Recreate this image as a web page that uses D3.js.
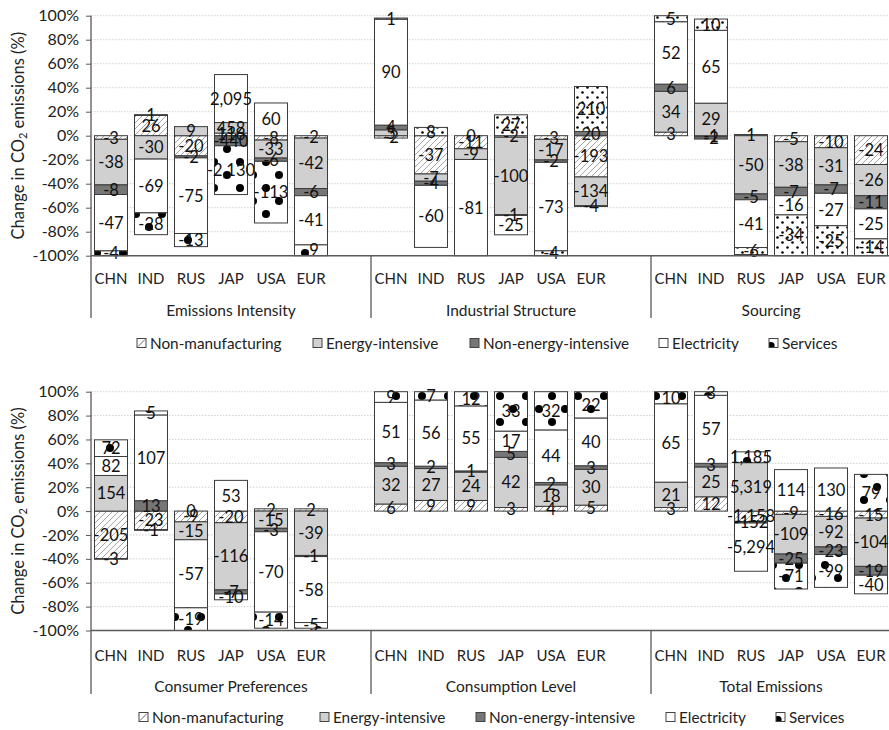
<!DOCTYPE html>
<html>
<head>
<meta charset="utf-8">
<script src="https://cdn.jsdelivr.net/npm/d3@7"></script>
<style>
  body { margin: 0; background: #fff; }
  svg { display: block; font-family: Lato, "Open Sans", sans-serif; }
</style>
</head>
<body>
<svg id="chart" width="889" height="730"></svg>
<script>
// ---- data -------------------------------------------------------------
const countries = ["CHN", "IND", "RUS", "JAP", "USA", "EUR"];
const seriesNames = ["Non-manufacturing", "Energy-intensive", "Non-energy-intensive", "Electricity", "Services"];
const topGroups = ["Emissions Intensity", "Industrial Structure", "Sourcing"];
const bottomGroups = ["Consumer Preferences", "Consumption Level", "Total Emissions"];
const yTicks = [-100, -80, -60, -40, -20, 0, 20, 40, 60, 80, 100];

// Contribution of each sector (% of net change), one row per decomposition
// factor: Emissions Intensity, Industrial Structure, Sourcing,
// Consumer Preferences, Consumption Level, Total Emissions; columns follow `countries`.
const nonManufacturing = [
  [-3, 26, -20, 116, -8, -2],
  [-2, -37, -11, -2, -3, -193],
  [3, -1, 1, -5, -10, -24],
  [-205, -23, -9, -20, 2, 2],
  [6, 9, 9, 3, 4, 5],
  [3, 12, -1158, -9, -16, -15]
];
const energyIntensive = [
  [-38, -30, 9, 458, -33, -42],
  [5, -7, -9, -100, -17, -134],
  [34, 29, -50, -38, -31, -26],
  [154, -1, -15, -116, -15, -39],
  [32, 27, 24, 42, 18, 30],
  [21, 25, 5319, -109, -92, -104]
];
const nonEnergyIntensive = [
  [-8, 1, -2, -440, -6, -6],
  [4, -4, null, -1, -2, 20],
  [6, -2, -5, -7, -7, -11],
  [-3, 13, 0, -7, -3, -1],
  [3, 2, 1, 5, 2, 3],
  [null, 3, -152, -25, -23, -19]
];
const electricity = [
  [-47, -69, -75, 2095, 60, -41],
  [90, -60, -81, -25, -73, -4],
  [52, 65, -41, -16, -27, -25],
  [82, 107, -57, 53, -70, -58],
  [51, 56, 55, 17, 44, 40],
  [65, 57, -5294, 114, 130, -40]
];
const services = [
  [-4, -28, -13, -2130, -113, -9],
  [1, 8, 0, 27, -4, 210],
  [5, 10, -6, -34, -25, -14],
  [72, 5, -19, -10, -14, -5],
  [9, 7, 12, 33, 32, 22],
  [10, 3, 1185, -71, -99, 79]
];
const seriesValues = [nonManufacturing, energyIntensive, nonEnergyIntensive, electricity, services];

// ---- styling ----------------------------------------------------------
const plotLeft = 91, plotRight = 891;
const lightGray = "#d0d0d0", darkGray = "#767676", edge = "#3c3c3c", axisColor = "#595959";

const fmt = d3.formatLocale({ decimal: ".", thousands: ",", grouping: [3], currency: ["", ""], minus: "-" }).format(",");

const svg = d3.select("#chart");
const defs = svg.append("defs");

// diagonal hatch
const hatch = defs.append("pattern").attr("id", "hatch")
  .attr("patternUnits", "userSpaceOnUse").attr("width", 6).attr("height", 6);
hatch.append("rect").attr("width", 6).attr("height", 6).attr("fill", "#fff");
hatch.append("path").attr("d", "M-1,1 L1,-1 M0,6 L6,0 M5,7 L7,5")
  .attr("stroke", "#8a8a8a").attr("stroke-width", 0.8);

// coarse dots
const dotsBig = defs.append("pattern").attr("id", "dotsBig")
  .attr("patternUnits", "userSpaceOnUse").attr("width", 26).attr("height", 26);
dotsBig.append("rect").attr("width", 26).attr("height", 26).attr("fill", "#fff");
dotsBig.append("circle").attr("cx", 6).attr("cy", 6).attr("r", 4).attr("fill", "#000");
dotsBig.append("circle").attr("cx", 19).attr("cy", 19).attr("r", 4).attr("fill", "#000");

// fine dots
const dotsSmall = defs.append("pattern").attr("id", "dotsSmall")
  .attr("patternUnits", "userSpaceOnUse").attr("width", 10).attr("height", 10);
dotsSmall.append("rect").attr("width", 10).attr("height", 10).attr("fill", "#fff");
dotsSmall.append("circle").attr("cx", 2.5).attr("cy", 2.5).attr("r", 1.3).attr("fill", "#000");
dotsSmall.append("circle").attr("cx", 7.5).attr("cy", 7.5).attr("r", 1.3).attr("fill", "#000");

function fillFor(seriesIdx, dotStyle) {
  return [ "url(#hatch)", lightGray, darkGray, "#fff", dotStyle ][seriesIdx];
}

// x band: three groups of six countries with a blank slot between groups
const slotKeys = [];
[0, 1, 2].forEach(g => {
  countries.forEach(c => slotKeys.push(g + "|" + c));
  if (g < 2) slotKeys.push(g + "|gap");
});
const x = d3.scaleBand().domain(slotKeys).range([plotLeft, plotRight])
  .paddingInner(0.175).paddingOuter(0.0875);
const step = x.step();

function drawPanel(cfg) {
  const g = svg.append("g");
  const y = d3.scaleLinear().domain([-100, 100]).range([cfg.yBottom, cfg.yTop]);

  // gridlines
  g.append("g").selectAll("line").data(yTicks.filter(t => t > -100)).join("line")
    .attr("x1", plotLeft).attr("x2", plotRight)
    .attr("y1", d => y(d)).attr("y2", d => y(d))
    .attr("stroke", "#cfcfcf").attr("stroke-width", 1).attr("stroke-dasharray", "1.5,1.5");

  // y axis
  const yAxis = d3.axisLeft(y).tickValues(yTicks).tickSize(5).tickPadding(7)
    .tickFormat(d => (d < 0 ? "-" + Math.abs(d) : d) + "%");
  const ya = g.append("g").attr("transform", `translate(${plotLeft},0)`).call(yAxis);
  ya.select(".domain").remove();
  ya.selectAll(".tick line").attr("stroke", axisColor);
  ya.selectAll(".tick text").attr("font-size", "16px").attr("fill", "#222").attr("font-family", "Lato, sans-serif");
  g.append("line").attr("x1", plotLeft).attr("x2", plotLeft)
    .attr("y1", cfg.yTop).attr("y2", cfg.dividerBottom)
    .attr("stroke", axisColor).attr("stroke-width", 1.3);

  // bars
  cfg.groups.forEach((groupName, gi) => {
    const row = cfg.rowOffset + gi;
    const dotStyle = cfg.dotStyles[gi];
    countries.forEach((c, ci) => {
      const vals = seriesValues.map(s => s[row][ci]);
      const total = d3.sum(vals, v => v == null ? 0 : Math.abs(v));
      let pos = 0, neg = 0;
      const segs = [];
      vals.forEach((v, si) => {
        if (v == null) return;
        const h = Math.abs(v) / total * 100;
        let y0, y1;
        if (v >= 0) { y0 = pos; y1 = pos + h; pos = y1; }
        else { y0 = neg; y1 = neg - h; neg = y1; }
        segs.push({ v, si, y0, y1 });
      });
      const bx = x(gi + "|" + c), bw = x.bandwidth();
      const bg = g.append("g");
      bg.selectAll("rect").data(segs).join("rect")
        .attr("x", bx).attr("width", bw)
        .attr("y", d => y(Math.max(d.y0, d.y1)))
        .attr("height", d => Math.abs(y(d.y0) - y(d.y1)))
        .attr("fill", d => fillFor(d.si, dotStyle))
        .attr("stroke", edge).attr("stroke-width", 1);
      bg.selectAll("text").data(segs).join("text")
        .attr("x", bx + bw / 2).attr("y", d => y((d.y0 + d.y1) / 2))
        .attr("text-anchor", "middle").attr("dominant-baseline", "central")
        .attr("font-size", "16.5px").attr("fill", "#111")
        .text(d => fmt(d.v));
    });
  });

  // category axis at -100%
  g.append("line").attr("x1", plotLeft).attr("x2", plotRight)
    .attr("y1", cfg.yBottom).attr("y2", cfg.yBottom)
    .attr("stroke", axisColor).attr("stroke-width", 1.5);

  // country labels
  cfg.groups.forEach((groupName, gi) => {
    g.append("g").selectAll("text").data(countries).join("text")
      .attr("x", c => x(gi + "|" + c) + x.bandwidth() / 2)
      .attr("y", cfg.catY).attr("text-anchor", "middle").attr("dominant-baseline", "central")
      .attr("font-size", "15px").attr("fill", "#222").text(c => c);
  });

  // group labels and dividers
  const groupStart = [x("0|CHN"), x("1|CHN"), x("2|CHN")].map(v => v - x.paddingOuter() * step);
  const groupEnd = [groupStart[1], groupStart[2], plotRight];
  cfg.groups.forEach((groupName, gi) => {
    g.append("text").attr("x", (groupStart[gi] + groupEnd[gi]) / 2).attr("y", cfg.groupY)
      .attr("text-anchor", "middle").attr("dominant-baseline", "central")
      .attr("font-size", "15.5px").attr("fill", "#222").text(groupName);
    if (gi > 0) {
      g.append("line").attr("x1", groupStart[gi]).attr("x2", groupStart[gi])
        .attr("y1", cfg.yBottom).attr("y2", cfg.dividerBottom)
        .attr("stroke", axisColor).attr("stroke-width", 1.3);
    }
  });

  // y axis title
  const cy = (cfg.yTop + cfg.yBottom) / 2;
  const title = g.append("text").attr("transform", `translate(18,${cy}) rotate(-90)`)
    .attr("text-anchor", "middle").attr("dominant-baseline", "central")
    .attr("font-size", "16.5px").attr("fill", "#222");
  title.append("tspan").text("Change in CO");
  title.append("tspan").attr("font-size", "11px").attr("dy", "4").text("2");
  title.append("tspan").attr("dy", "-4").text(" emissions (%)");

  // legend
  const lg = g.append("g");
  seriesNames.forEach((name, si) => {
    const sx = cfg.legendX[si], sy = cfg.legendY;
    const item = lg.append("g");
    const clipId = `lclip${cfg.rowOffset}_${si}`;
    defs.append("clipPath").attr("id", clipId)
      .append("rect").attr("x", sx).attr("y", sy - 4.5).attr("width", 9).attr("height", 9);
    item.append("rect").attr("x", sx).attr("y", sy - 4.5).attr("width", 9).attr("height", 9)
      .attr("fill", si === 1 ? lightGray : si === 2 ? darkGray : "#fff");
    if (si === 0) {
      item.append("line").attr("x1", sx + 1).attr("y1", sy + 3.5).attr("x2", sx + 8).attr("y2", sy - 3.5)
        .attr("stroke", "#555").attr("stroke-width", 0.9);
    }
    if (si === 4) {
      item.append("circle").attr("cx", sx + 2).attr("cy", sy + 2.5).attr("r", 3.6)
        .attr("fill", "#000").attr("clip-path", `url(#${clipId})`);
    }
    item.append("rect").attr("x", sx).attr("y", sy - 4.5).attr("width", 9).attr("height", 9)
      .attr("fill", "none").attr("stroke", "#444").attr("stroke-width", 1);
    item.append("text").attr("x", sx + 13).attr("y", sy).attr("dominant-baseline", "central")
      .attr("font-size", "15.3px").attr("fill", "#222").text(name);
  });
}

drawPanel({
  groups: topGroups, rowOffset: 0,
  yTop: 15.7, yBottom: 255.7, catY: 278, groupY: 310, dividerBottom: 318,
  legendY: 343, legendX: [137, 313, 470, 659, 769],
  dotStyles: ["url(#dotsBig)", "url(#dotsSmall)", "url(#dotsSmall)"]
});
drawPanel({
  groups: bottomGroups, rowOffset: 3,
  yTop: 391.7, yBottom: 630.5, catY: 655, groupY: 686, dividerBottom: 694,
  legendY: 717, legendX: [139, 320, 476, 666, 776],
  dotStyles: ["url(#dotsBig)", "url(#dotsBig)", "url(#dotsBig)"]
});
</script>
</body>
</html>
